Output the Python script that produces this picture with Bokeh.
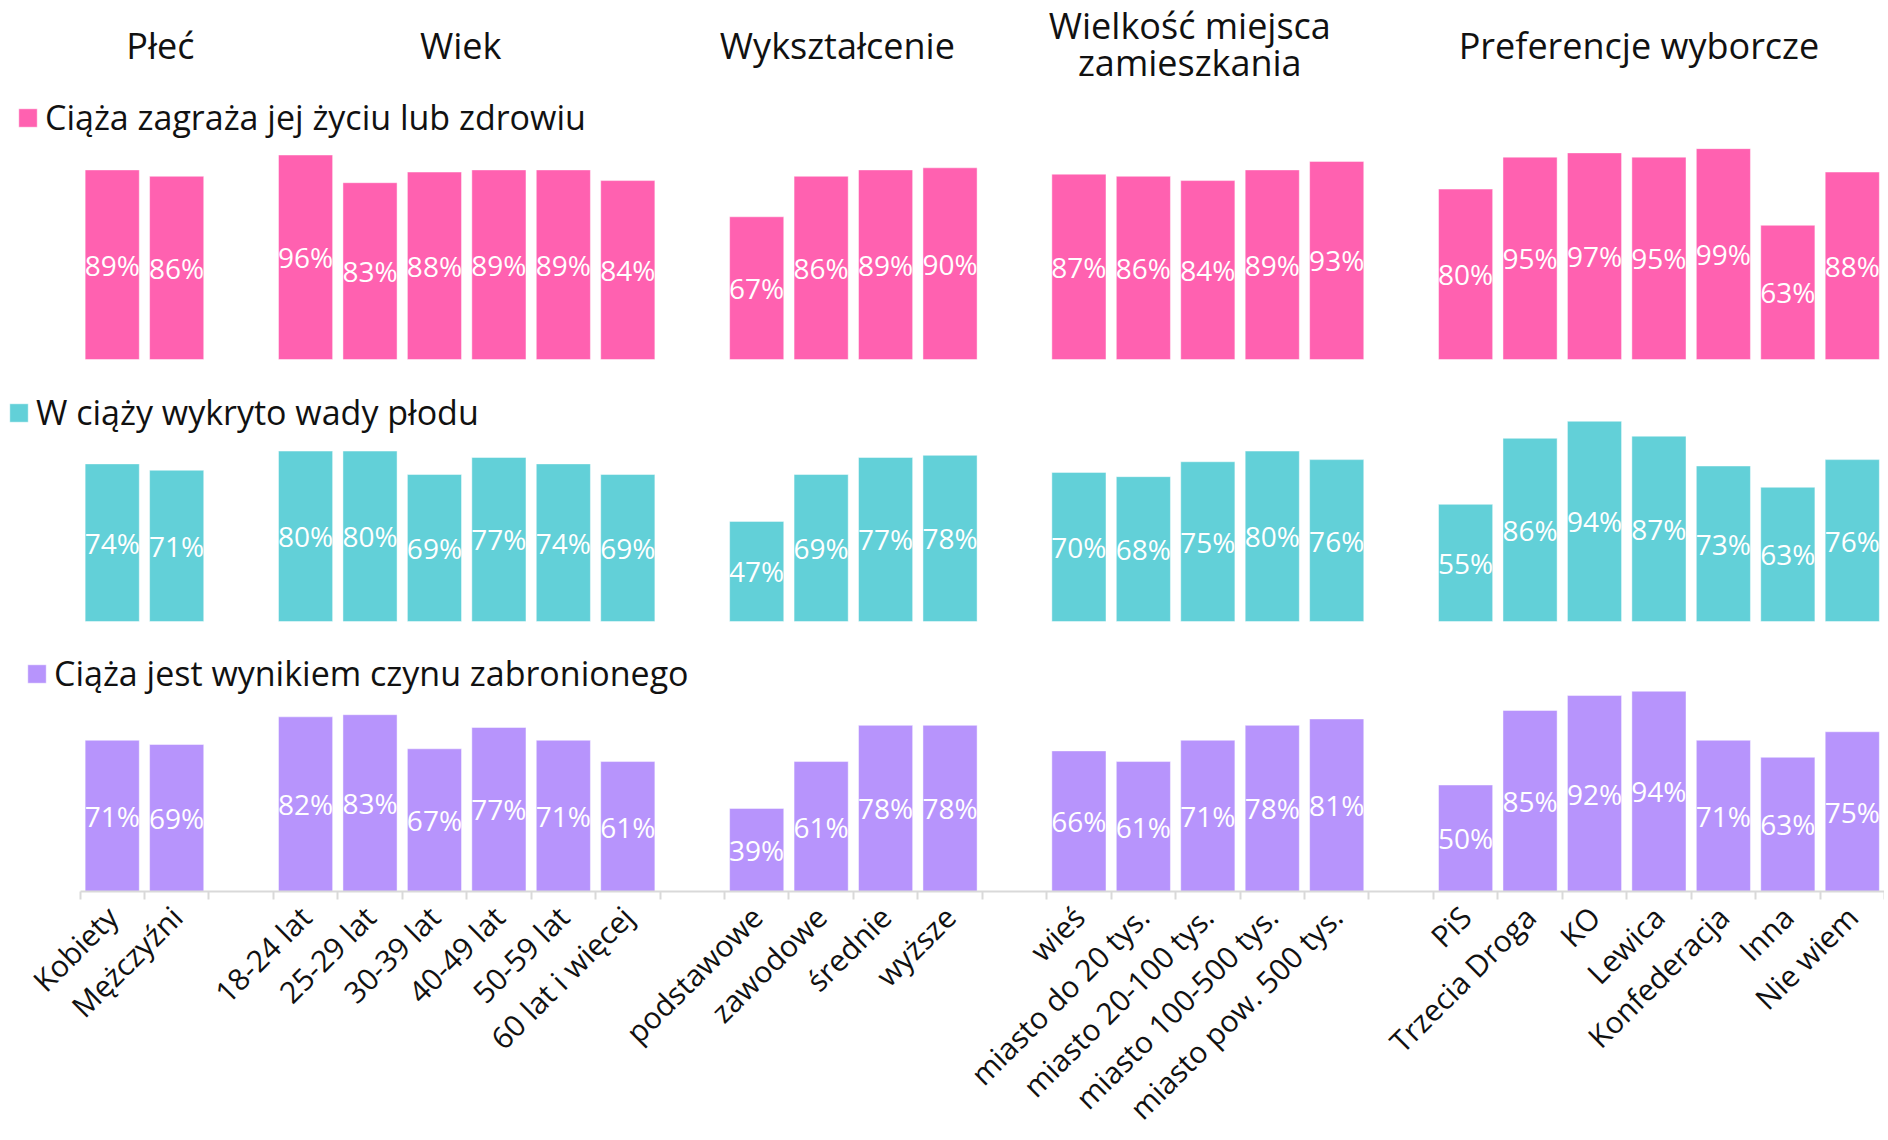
import math
from bokeh.plotting import figure
from bokeh.models import (Range1d, FixedTicker, Label, Legend, LegendItem,
                          ColumnDataSource, LinearAxis)
from bokeh.core.properties import value
from bokeh.embed import file_html
from bokeh.resources import INLINE

# ---------------- data ----------------
group_names = ["Płeć", "Wiek", "Wykształcenie", "Wielkość miejsca\nzamieszkania", "Preferencje wyborcze"]
group_categories = [
    ["Kobiety", "Mężczyźni"],
    ["18-24 lat", "25-29 lat", "30-39 lat", "40-49 lat", "50-59 lat", "60 lat i więcej"],
    ["podstawowe", "zawodowe", "średnie", "wyższe"],
    ["wieś", "miasto do 20 tys.", "miasto 20-100 tys.", "miasto 100-500 tys.", "miasto pow. 500 tys."],
    ["PiS", "Trzecia Droga", "KO", "Lewica", "Konfederacja", "Inna", "Nie wiem"],
]
series_names = [
    "Ciąża zagraża jej życiu lub zdrowiu",
    "W ciąży wykryto wady płodu",
    "Ciąża jest wynikiem czynu zabronionego",
]
zycie_zdrowie = [89, 86, 96, 83, 88, 89, 89, 84, 67, 86, 89, 90, 87, 86, 84, 89, 93, 80, 95, 97, 95, 99, 63, 88]
wady_plodu = [74, 71, 80, 80, 69, 77, 74, 69, 47, 69, 77, 78, 70, 68, 75, 80, 76, 55, 86, 94, 87, 73, 63, 76]
czyn_zabroniony = [71, 69, 82, 83, 67, 77, 71, 61, 39, 61, 78, 78, 66, 61, 71, 78, 81, 50, 85, 92, 94, 71, 63, 75]
series_values = [zycie_zdrowie, wady_plodu, czyn_zabroniony]
colors = ["#FF61B0", "#62D0D8", "#B794FC"]

# ---------------- slot positions (one empty slot between groups) ----------------
xs, labels, group_centers = [], [], []
slot = 0
for gi, cats in enumerate(group_categories):
    start = slot
    for c in cats:
        xs.append(slot)
        labels.append(c)
        slot += 1
    group_centers.append((start + slot - 1) / 2)
    slot += 1  # gap
n_slots = slot - 1

# ---------------- layout ----------------
FW, FH = 1884, 891
PX100 = 213.0          # pixels for 100 %
row_bottoms = [532, 270, 0]  # px above frame bottom
span = FH / PX100 * 100
slot_px = (FW - 79.5) / n_slots
x_start = -0.5 - 79.5 / slot_px

p = figure(frame_width=FW, frame_height=FH, output_backend="svg", toolbar_location=None,
           x_range=Range1d(x_start, n_slots - 0.5),
           y_range=Range1d(-row_bottoms[2] / PX100 * 100, -row_bottoms[2] / PX100 * 100 + span),
           min_border_left=0, min_border_right=0, min_border_top=0, min_border_bottom=0,
           x_axis_location=None, y_axis_location=None)
p.outline_line_color = None
p.grid.visible = False
p.background_fill_color = "white"
p.border_fill_color = "white"

for r in range(2):
    st = -row_bottoms[r] / PX100 * 100
    p.extra_y_ranges["row%d" % r] = Range1d(st, st + span)

FONT = "Open Sans"
legend_pos = [(16, 751), (7, 456), (25, 195)]
for r in range(3):
    rname = "row%d" % r if r < 2 else "default"
    vals = series_values[r]
    src = ColumnDataSource(dict(x=xs, top=vals, mid=[v / 2 for v in vals],
                                txt=["%d%%" % v for v in vals]))
    bars = p.vbar(x="x", top="top", bottom=0, width=0.84, source=src, y_range_name=rname,
                  fill_color=colors[r], line_color="white", line_alpha=0.45, line_width=1)
    p.text(x="x", y="mid", text="txt", source=src, y_range_name=rname,
           text_color="white", text_font=value(FONT), text_font_size="28px",
           text_align="center", text_baseline="middle")
    lg = Legend(items=[LegendItem(label=series_names[r], renderers=[bars])],
                location=legend_pos[r], orientation="vertical",
                background_fill_alpha=0, border_line_color=None,
                padding=0, margin=0, spacing=0, label_standoff=6,
                glyph_width=23, glyph_height=23,
                label_text_font=FONT, label_text_font_size="34px", label_text_color="#111111")
    p.add_layout(lg, "center")

# ---------------- x axis ----------------
xaxis = LinearAxis()
xaxis.ticker = FixedTicker(ticks=xs, minor_ticks=[b - 0.5 for b in range(n_slots + 1)])
xaxis.major_label_overrides = {x: l for x, l in zip(xs, labels)}
xaxis.bounds = (-0.5, n_slots - 0.5)
xaxis.axis_line_color = "#d9d9d9"
xaxis.axis_line_width = 2
xaxis.major_tick_line_color = None
xaxis.minor_tick_line_color = "#d9d9d9"
xaxis.minor_tick_line_width = 2
xaxis.minor_tick_out = 8
xaxis.minor_tick_in = 0
xaxis.major_label_orientation = math.pi / 4
xaxis.major_label_standoff = 12
xaxis.major_label_text_font = FONT
xaxis.major_label_text_font_size = "30px"
xaxis.major_label_text_color = "#111111"
p.add_layout(xaxis, "below")

# ---------------- group titles ----------------
title_dx = [16, -6, -16, -18, -20]
for name, cx, dx in zip(group_names, group_centers, title_dx):
    lines = name.split("\n")
    ys = [846] if len(lines) == 1 else [866, 829]
    for ln, yy in zip(lines, ys):
        p.add_layout(Label(x=cx, y=yy, y_units="screen", x_offset=dx, text=ln, text_font=FONT,
                           text_font_size="36px", text_color="#111111",
                           text_align="center", text_baseline="middle"))

open("out.html", "w").write(file_html(p, INLINE))
